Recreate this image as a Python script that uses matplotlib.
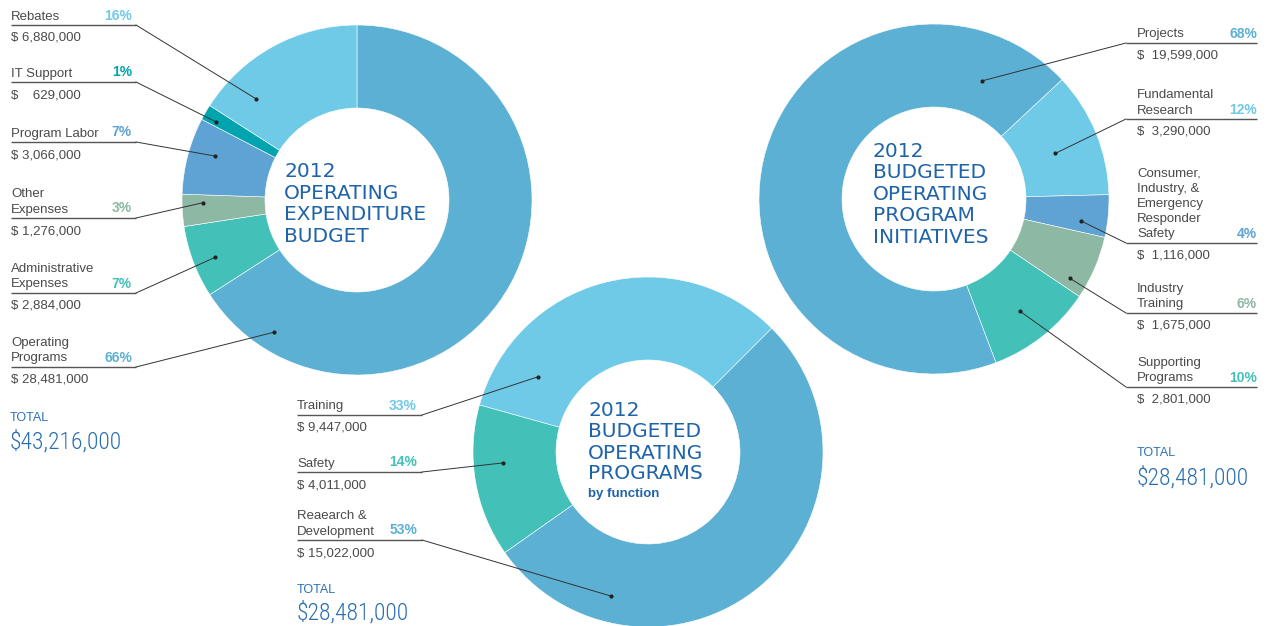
import numpy as np
import matplotlib.pyplot as plt

W, H = 1268, 626
R = 175          # outer radius (px)
RW = 83          # ring width (px)

# ---------------- data ----------------
# 2012 operating expenditure budget (clockwise from top)
exp_names = ['Operating\nPrograms', 'Administrative\nExpenses', 'Other\nExpenses',
             'Program Labor', 'IT Support', 'Rebates']
exp_values = [28481000, 2884000, 1276000, 3066000, 629000, 6880000]
exp_pcts = ['66%', '7%', '3%', '7%', '1%', '16%']
exp_amounts = ['$ 28,481,000', '$ 2,884,000', '$ 1,276,000', '$ 3,066,000',
               '$    629,000', '$ 6,880,000']
exp_total = '$43,216,000'

# 2012 budgeted operating programs by function (counter-clockwise)
fun_names = ['Training', 'Safety', 'Reaearch &\nDevelopment']
fun_values = [9447000, 4011000, 15022000]
fun_pcts = ['33%', '14%', '53%']
fun_amounts = ['$ 9,447,000', '$ 4,011,000', '$ 15,022,000']
fun_total = '$28,481,000'

# 2012 budgeted operating program initiatives (clockwise from upper right)
ini_names = ['Fundamental\nResearch', 'Consumer,\nIndustry, &\nEmergency\nResponder\nSafety',
             'Industry\nTraining', 'Supporting\nPrograms', 'Projects']
ini_values = [3290000, 1116000, 1675000, 2801000, 19599000]
ini_pcts = ['12%', '4%', '6%', '10%', '68%']
ini_amounts = ['$  3,290,000', '$  1,116,000', '$  1,675,000', '$  2,801,000', '$  19,599,000']
ini_total = '$28,481,000'

# ---------------- styles ----------------
MAIN = '#5BB0D3'
LIGHT = '#6FCAE7'
ITC = '#00A4AF'
LABOR = '#5EA3D3'
GRAY = '#8DB8A3'
TEAL = '#43C1B9'
TITLE = '#1F63A8'
TXT = '#4A4A4A'

exp_colors = [MAIN, TEAL, GRAY, LABOR, ITC, LIGHT]
fun_colors = [LIGHT, TEAL, MAIN]
ini_colors = [LIGHT, LABOR, GRAY, TEAL, MAIN]

plt.rcParams['font.family'] = ['Liberation Sans', 'DejaVu Sans']
BIG_FONT = ['Roboto Condensed', 'Liberation Sans Narrow', 'DejaVu Sans Condensed', 'Liberation Sans']

fig = plt.figure(figsize=(W / 100, H / 100), dpi=100)
ax = fig.add_axes([0, 0, 1, 1])


def Draw_Donut(cx, cy, values, colors, start, ccw):
    wedges, _ = ax.pie(values, colors=colors, startangle=start, counterclock=ccw,
                       center=(cx, H - cy), radius=R,
                       wedgeprops=dict(width=RW, edgecolor='white', linewidth=0.4))
    return wedges


def Draw_Labels(cx, cy, names, pcts, colors, amounts, ulines, anchors,
                x_text, x0, x1, x_pct, side):
    for name, pct, col, amt, u, (ang, rf) in zip(names, pcts, colors, amounts, ulines, anchors):
        lines = name.split('\n')
        for k, line in enumerate(reversed(lines)):
            ax.text(x_text, H - (u - 5.5 - k * 15.3), line, fontsize=9.5, color=TXT,
                    ha='left', va='baseline')
        ax.text(x_pct, H - (u - 5.5), pct, fontsize=10, fontweight='bold', color=col,
                ha='right', va='baseline')
        ax.plot([x0, x1], [H - u, H - u], color='#555555', lw=1.0, solid_capstyle='butt')
        px = cx + rf * R * np.cos(np.radians(ang))
        py = (H - cy) + rf * R * np.sin(np.radians(ang))
        sx = x1 if side == 'left' else x0
        ax.plot([sx, px], [H - u, py], color='#333333', lw=0.7)
        ax.plot(px, py, 'o', ms=2, color='#222222')
        ax.text(x_text, H - (u + 16), amt, fontsize=9.5, color=TXT, ha='left', va='baseline')


def Draw_Title(x, baselines, lines):
    for b, line in zip(baselines, lines):
        ax.text(x, H - b, line, fontsize=14.5, color=TITLE, family='DejaVu Sans',
                ha='left', va='baseline')


def Draw_Total(x, y_small, y_big, total):
    ax.text(x, H - y_small, 'TOTAL', fontsize=9, color='#2C71B4', ha='left', va='center')
    ax.text(x, H - y_big, total, fontsize=17, color='#2A6DB0', family=BIG_FONT,
            fontweight='light', ha='left', va='center')


# donut 1: operating expenditure budget
Draw_Donut(357, 200, exp_values, exp_colors, 90, False)
Draw_Labels(357, 200, exp_names, exp_pcts, exp_colors, exp_amounts,
            [367, 293, 218, 142, 82, 25],
            [(238, 0.89), (202, 0.875), (181, 0.88), (162.8, 0.85), (151, 0.92), (135, 0.82)],
            11, 11, 136, 132, 'left')
Draw_Title(284, [177, 199, 220, 242], ['2012', 'OPERATING', 'EXPENDITURE', 'BUDGET'])
Draw_Total(10, 418, 442, exp_total)

# donut 2: operating programs by function
Draw_Donut(648, 452, fun_values, fun_colors, 45, True)
Draw_Labels(648, 452, fun_names, fun_pcts, fun_colors, fun_amounts,
            [415, 472, 540],
            [(145.5, 0.76), (184.3, 0.83), (255.6, 0.85)],
            297, 297, 422, 417, 'left')
Draw_Title(588, [416, 437, 459, 479], ['2012', 'BUDGETED', 'OPERATING', 'PROGRAMS'])
ax.text(588, H - 497, 'by function', fontsize=9.5, color=TITLE, fontweight='bold',
        ha='left', va='baseline')
Draw_Total(297, 590, 613, fun_total)

# donut 3: operating program initiatives
Draw_Donut(934, 199, ini_values, ini_colors, 43, False)
Draw_Labels(934, 199, ini_names, ini_pcts, ini_colors, ini_amounts,
            [119, 243, 313, 387, 43],
            [(20.6, 0.74), (-8.5, 0.85), (-30.3, 0.90), (-52.5, 0.81), (67.7, 0.73)],
            1137, 1126, 1257, 1257, 'right')
Draw_Title(873, [157, 178, 200, 221, 243],
           ['2012', 'BUDGETED', 'OPERATING', 'PROGRAM', 'INITIATIVES'])
Draw_Total(1137, 453, 478, ini_total)

ax.set_xlim(0, W)
ax.set_ylim(0, H)
ax.set_aspect('equal')
ax.axis('off')

fig.savefig('out.png', dpi=100, facecolor='white')
